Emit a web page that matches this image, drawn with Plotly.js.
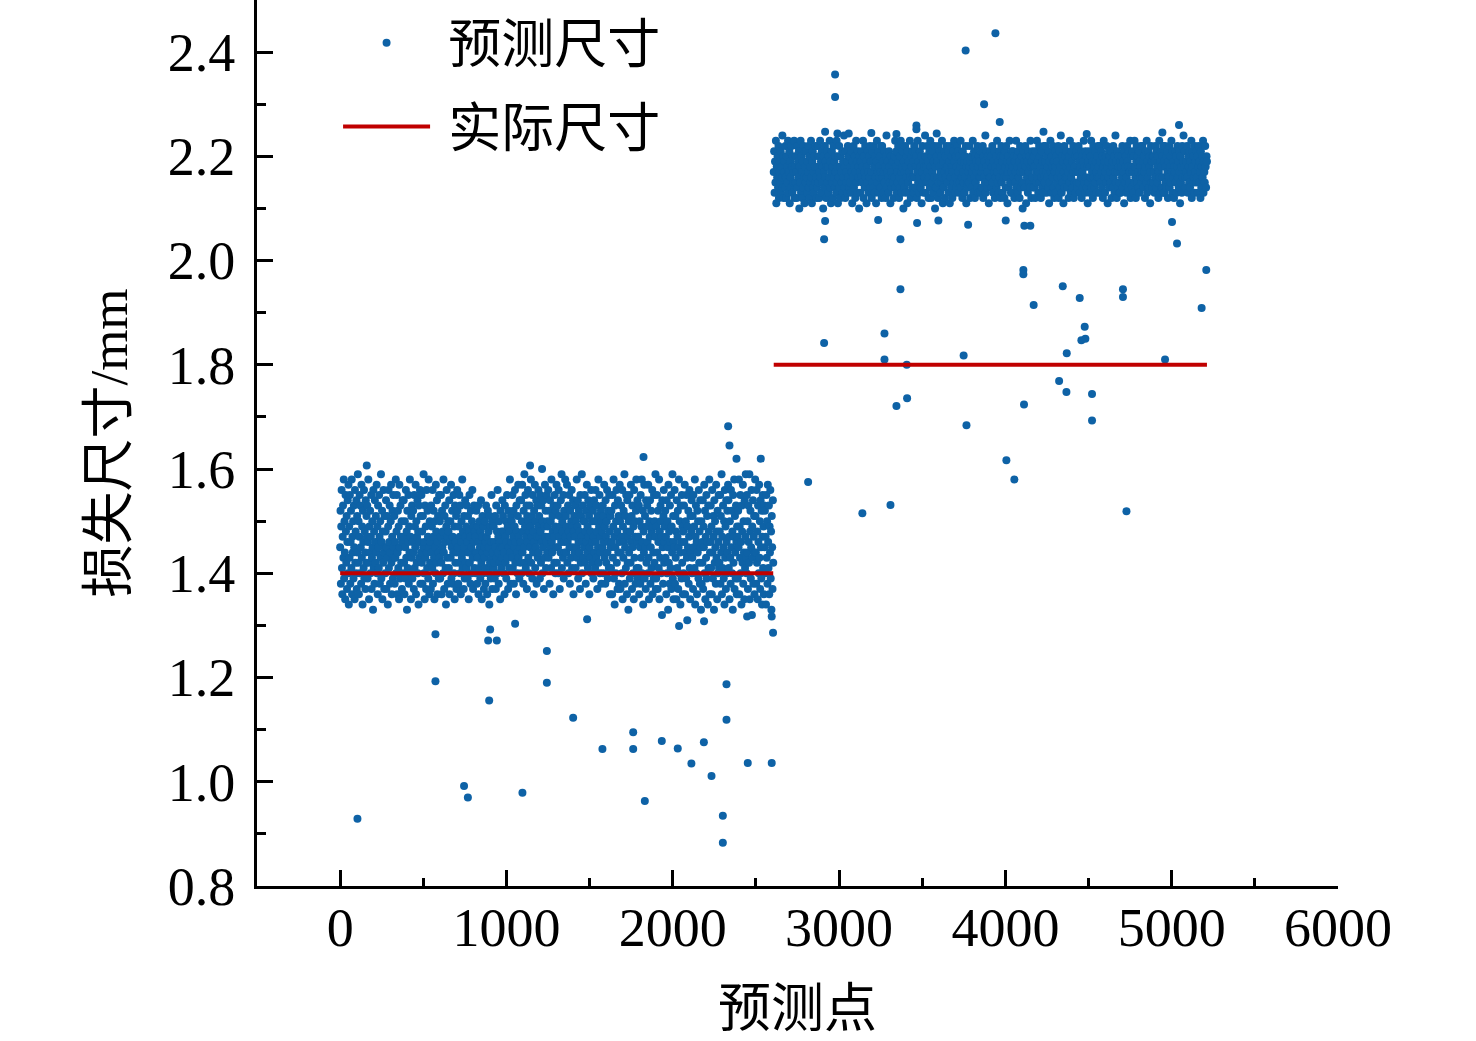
<!DOCTYPE html>
<html>
<head>
<meta charset="utf-8">
<script src="https://cdn.plot.ly/plotly-3.0.1.min.js"></script>
<style>
  html, body { margin: 0; padding: 0; background: #fff; }
  #plot { width: 1476px; height: 1041px; }
</style>
</head>
<body>
<div id="plot"></div>
<script>
// 预测尺寸：第一段（实际尺寸 1.4 mm）逐点读数
const seg1Y = [
1.45,1.52,1.38,1.49,1.56,1.41,1.36,1.47,1.53,1.43,1.58,1.39,1.50,1.44,1.35,1.55,1.48,1.42,1.51,1.37,1.46,1.54,1.40,1.57,1.34,
1.49,1.43,1.55,1.38,1.46,1.52,1.41,1.58,1.36,1.47,1.44,1.50,1.39,1.53,1.45,1.35,1.56,1.42,1.48,1.40,1.54,1.37,1.51,1.44,1.59,
1.42,1.50,1.36,1.47,1.55,1.40,1.53,1.45,1.38,1.57,1.43,1.49,1.34,1.52,1.46,1.41,1.56,1.39,1.48,1.44,1.37,1.54,1.42,1.51,1.47,
1.53,1.39,1.46,1.58,1.42,1.35,1.49,1.44,1.52,1.40,1.47,1.55,1.37,1.43,1.50,1.45,1.33,1.56,1.41,1.48,1.38,1.54,1.46,1.42,1.51,
1.44,1.57,1.40,1.49,1.36,1.53,1.45,1.41,1.55,1.47,1.38,1.50,1.43,1.59,1.39,1.46,1.52,1.35,1.48,1.42,1.56,1.44,1.37,1.51,1.45,
1.40,1.48,1.54,1.37,1.45,1.51,1.43,1.34,1.49,1.56,1.41,1.46,1.53,1.38,1.44,1.50,1.57,1.42,1.36,1.47,1.52,1.39,1.55,1.45,1.43,
1.51,1.38,1.46,1.43,1.58,1.40,1.48,1.55,1.36,1.44,1.52,1.41,1.49,1.35,1.57,1.45,1.39,1.53,1.47,1.42,1.50,1.37,1.46,1.54,1.40,
1.47,1.54,1.42,1.36,1.50,1.45,1.39,1.56,1.43,1.48,1.33,1.52,1.41,1.46,1.55,1.38,1.49,1.44,1.58,1.40,1.47,1.35,1.51,1.43,1.53,
1.39,1.46,1.52,1.44,1.37,1.55,1.41,1.49,1.45,1.57,1.36,1.50,1.42,1.47,1.54,1.40,1.48,1.34,1.53,1.43,1.46,1.56,1.38,1.51,1.44,
1.55,1.42,1.48,1.38,1.51,1.45,1.59,1.40,1.46,1.35,1.53,1.43,1.49,1.37,1.56,1.44,1.41,1.52,1.47,1.39,1.58,1.45,1.36,1.50,1.42,
1.46,1.37,1.53,1.44,1.49,1.41,1.56,1.38,1.47,1.52,1.43,1.35,1.50,1.45,1.40,1.57,1.48,1.42,1.54,1.36,1.46,1.51,1.44,1.39,1.55,
1.43,1.50,1.39,1.47,1.55,1.42,1.36,1.52,1.45,1.48,1.40,1.58,1.44,1.37,1.51,1.46,1.53,1.41,1.34,1.49,1.56,1.43,1.47,1.38,1.50,
1.48,1.41,1.54,1.36,1.46,1.50,1.43,1.57,1.39,1.45,1.52,1.38,1.47,1.44,1.55,1.40,1.49,1.35,1.53,1.42,1.46,1.51,1.37,1.44,1.56,
1.52,1.45,1.38,1.49,1.42,1.55,1.47,1.40,1.53,1.36,1.46,1.50,1.43,1.58,1.41,1.48,1.44,1.37,1.51,1.45,1.39,1.54,1.47,1.42,1.49,
1.41,1.53,1.46,1.39,1.51,1.44,1.35,1.48,1.55,1.42,1.47,1.38,1.52,1.45,1.40,1.50,1.56,1.43,1.37,1.49,1.46,1.53,1.41,1.48,1.44,
1.47,1.40,1.52,1.44,1.38,1.49,1.43,1.53,1.36,1.46,1.41,1.50,1.45,1.39,1.48,1.54,1.42,1.35,1.47,1.51,1.44,1.40,1.49,1.37,1.45,
1.43,1.50,1.38,1.46,1.53,1.41,1.47,1.36,1.44,1.52,1.40,1.48,1.45,1.34,1.51,1.42,1.49,1.39,1.46,1.55,1.43,1.37,1.50,1.44,1.41,
1.49,1.42,1.46,1.39,1.51,1.45,1.37,1.53,1.43,1.48,1.40,1.56,1.44,1.47,1.38,1.50,1.42,1.46,1.35,1.52,1.45,1.41,1.48,1.43,1.54,
1.45,1.51,1.40,1.48,1.44,1.36,1.53,1.47,1.42,1.50,1.39,1.46,1.55,1.43,1.49,1.37,1.52,1.45,1.41,1.48,1.58,1.44,1.38,1.51,1.46,
1.50,1.43,1.55,1.41,1.47,1.52,1.38,1.45,1.49,1.56,1.42,1.46,1.36,1.53,1.48,1.44,1.40,1.51,1.57,1.43,1.47,1.39,1.54,1.45,1.42,
1.46,1.54,1.40,1.50,1.57,1.44,1.48,1.38,1.52,1.45,1.59,1.42,1.49,1.55,1.41,1.47,1.53,1.37,1.51,1.46,1.56,1.43,1.50,1.40,1.48,
1.53,1.45,1.49,1.58,1.42,1.47,1.51,1.39,1.55,1.44,1.48,1.36,1.52,1.46,1.57,1.41,1.50,1.45,1.54,1.38,1.47,1.53,1.43,1.49,1.56,
1.44,1.51,1.47,1.39,1.55,1.48,1.42,1.53,1.46,1.60,1.40,1.50,1.45,1.54,1.37,1.49,1.43,1.57,1.47,1.52,1.41,1.46,1.55,1.44,1.50,
1.49,1.56,1.43,1.47,1.52,1.38,1.54,1.45,1.50,1.41,1.58,1.46,1.44,1.51,1.48,1.36,1.53,1.47,1.42,1.55,1.49,1.40,1.52,1.45,1.57,
1.42,1.48,1.53,1.45,1.40,1.56,1.47,1.51,1.37,1.49,1.44,1.54,1.46,1.59,1.41,1.50,1.48,1.43,1.55,1.39,1.52,1.46,1.44,1.58,1.47,
1.51,1.44,1.49,1.57,1.42,1.46,1.53,1.40,1.48,1.55,1.45,1.38,1.52,1.47,1.43,1.50,1.56,1.41,1.49,1.45,1.54,1.36,1.48,1.51,1.44,
1.47,1.53,1.41,1.50,1.45,1.58,1.43,1.49,1.54,1.39,1.46,1.52,1.44,1.48,1.37,1.55,1.42,1.51,1.47,1.59,1.40,1.46,1.53,1.43,1.50,
1.45,1.50,1.55,1.42,1.48,1.38,1.52,1.46,1.57,1.44,1.49,1.41,1.54,1.47,1.51,1.36,1.45,1.53,1.43,1.48,1.56,1.40,1.50,1.46,1.42,
1.52,1.39,1.47,1.54,1.44,1.50,1.41,1.56,1.46,1.43,1.53,1.48,1.37,1.51,1.45,1.58,1.42,1.49,1.55,1.40,1.47,1.44,1.52,1.38,1.50,
1.48,1.45,1.53,1.40,1.51,1.46,1.57,1.43,1.49,1.38,1.54,1.47,1.42,1.50,1.56,1.44,1.39,1.52,1.46,1.41,1.55,1.48,1.36,1.51,1.45,
1.41,1.52,1.46,1.36,1.55,1.43,1.49,1.58,1.39,1.47,1.34,1.53,1.45,1.40,1.50,1.56,1.42,1.48,1.37,1.54,1.44,1.51,1.38,1.46,1.57,
1.50,1.37,1.44,1.53,1.47,1.40,1.56,1.35,1.49,1.43,1.52,1.46,1.59,1.38,1.45,1.51,1.41,1.55,1.48,1.36,1.54,1.42,1.47,1.33,1.50,
1.44,1.55,1.39,1.48,1.42,1.57,1.46,1.51,1.37,1.53,1.45,1.40,1.49,1.35,1.56,1.43,1.50,1.47,1.38,1.52,1.58,1.41,1.46,1.54,1.39,
1.47,1.41,1.53,1.36,1.50,1.45,1.38,1.55,1.43,1.49,1.58,1.40,1.46,1.52,1.34,1.48,1.44,1.57,1.39,1.51,1.45,1.37,1.54,1.42,1.49,
1.53,1.46,1.40,1.57,1.43,1.35,1.50,1.47,1.54,1.38,1.45,1.52,1.41,1.48,1.56,1.36,1.49,1.44,1.39,1.55,1.42,1.50,1.47,1.59,1.37,
1.39,1.49,1.55,1.44,1.37,1.52,1.46,1.41,1.58,1.35,1.48,1.43,1.53,1.50,1.40,1.47,1.32,1.54,1.45,1.38,1.51,1.56,1.42,1.46,1.49,
1.52,1.43,1.47,1.36,1.54,1.40,1.50,1.45,1.33,1.57,1.42,1.48,1.38,1.53,1.46,1.41,1.55,1.37,1.49,1.44,1.59,1.39,1.51,1.35,1.46,
1.45,1.56,1.38,1.51,1.43,1.48,1.35,1.54,1.41,1.47,1.52,1.37,1.45,1.58,1.40,1.50,1.44,1.34,1.53,1.46,1.39,1.55,1.42,1.49,1.36,
1.48,1.40,1.53,1.46,1.57,1.36,1.44,1.50,1.39,1.55,1.43,1.31,1.49,1.45,1.52,1.38,1.47,1.56,1.41,1.35,1.51,1.44,1.48,1.54,1.40,
1.43,1.51,1.37,1.55,1.45,1.49,1.41,1.58,1.34,1.47,1.53,1.40,1.46,1.36,1.52,1.44,1.50,1.39,1.56,1.42,1.48,1.38,1.54,1.45,1.33,
1.50,1.38,1.46,1.42,1.54,1.37,1.49,1.45,1.57,1.40,1.52,1.35,1.47,1.43,1.55,1.39,1.51,1.46,1.34,1.53,1.41,1.48,1.58,1.36,1.44,
1.46,1.53,1.41,1.49,1.36,1.56,1.44,1.39,1.51,1.47,1.33,1.54,1.42,1.50,1.45,1.38,1.57,1.43,1.48,1.35,1.52,1.40,1.46,1.55,1.41,
1.42,1.48,1.55,1.38,1.51,1.44,1.59,1.36,1.47,1.41,1.53,1.45,1.39,1.50,1.34,1.56,1.43,1.49,1.37,1.54,1.46,1.40,1.52,1.44,1.57,
1.54,1.41,1.47,1.35,1.50,1.43,1.38,1.56,1.45,1.52,1.40,1.48,1.33,1.55,1.42,1.47,1.58,1.37,1.51,1.44,1.39,1.53,1.46,1.36,1.49,
1.47,1.39,1.52,1.45,1.58,1.36,1.49,1.43,1.55,1.40,1.46,1.34,1.53,1.48,1.42,1.57,1.38,1.50,1.44,1.35,1.54,1.41,1.47,1.59,1.43,
1.40,1.55,1.44,1.50,1.37,1.53,1.46,1.42,1.59,1.35,1.48,1.52,1.39,1.45,1.56,1.32,1.49,1.43,1.54,1.38,1.47,1.51,1.36,1.44,1.58,
1.51,1.44,1.38,1.56,1.42,1.48,1.35,1.53,1.46,1.40,1.57,1.43,1.50,1.37,1.54,1.45,1.39,1.52,1.34,1.47,1.55,1.41,1.49,1.36,1.53,
1.45,1.52,1.40,1.47,1.34,1.55,1.43,1.50,1.38,1.57,1.46,1.41,1.53,1.36,1.49,1.44,1.56,1.39,1.48,1.33,1.51,1.45,1.37,1.54,1.42
];

// 预测尺寸：第二段（实际尺寸 1.8 mm）逐点读数
const seg2Y = [
2.17,2.21,2.13,2.19,2.15,2.23,2.11,2.18,2.16,2.20,2.14,2.22,2.12,2.17,2.19,2.15,2.21,2.13,2.18,2.16,2.24,2.14,2.20,2.12,2.17,
2.19,2.14,2.22,2.16,2.12,2.20,2.18,2.15,2.23,2.13,2.17,2.21,2.11,2.19,2.16,2.14,2.22,2.18,2.13,2.20,2.15,2.17,2.23,2.12,2.18,
2.15,2.20,2.17,2.12,2.22,2.14,2.19,2.16,2.21,2.10,2.18,2.15,2.23,2.13,2.20,2.17,2.12,2.19,2.14,2.22,2.16,2.11,2.21,2.18,2.15,
2.21,2.16,2.13,2.19,2.17,2.22,2.14,2.20,2.12,2.18,2.15,2.23,2.16,2.11,2.19,2.21,2.14,2.17,2.13,2.20,2.18,2.15,2.22,2.16,2.12,
2.14,2.18,2.22,2.15,2.20,2.12,2.17,2.23,2.16,2.19,2.13,2.21,2.15,2.18,2.10,2.20,2.17,2.14,2.22,2.16,2.19,2.12,2.18,2.21,2.15,
2.18,2.13,2.20,2.16,2.23,2.14,2.19,2.11,2.17,2.21,2.15,2.18,2.12,2.22,2.16,2.19,2.14,2.20,2.17,2.13,2.23,2.15,2.18,2.11,2.20,
2.16,2.22,2.14,2.18,2.12,2.20,2.17,2.15,2.21,2.13,2.19,2.16,2.24,2.14,2.18,2.12,2.21,2.17,2.15,2.19,2.13,2.22,2.16,2.20,2.14,
2.20,2.15,2.18,2.13,2.21,2.17,2.11,2.19,2.16,2.22,2.14,2.18,2.20,2.12,2.17,2.23,2.15,2.19,2.13,2.21,2.16,2.18,2.10,2.20,2.17,
2.13,2.19,2.16,2.21,2.15,2.18,2.23,2.12,2.20,2.17,2.14,2.22,2.16,2.19,2.11,2.18,2.15,2.21,2.17,2.13,2.20,2.16,2.22,2.14,2.19,
2.17,2.12,2.21,2.15,2.19,2.14,2.22,2.18,2.13,2.20,2.16,2.11,2.19,2.23,2.15,2.17,2.21,2.13,2.18,2.16,2.20,2.14,2.17,2.22,2.12,
2.22,2.16,2.19,2.13,2.17,2.21,2.15,2.18,2.12,2.20,2.24,2.14,2.17,2.19,2.16,2.13,2.21,2.18,2.15,2.11,2.20,2.17,2.14,2.19,2.16,
2.15,2.19,2.12,2.20,2.16,2.23,2.14,2.18,2.21,2.13,2.17,2.15,2.22,2.19,2.12,2.16,2.20,2.14,2.23,2.17,2.13,2.18,2.21,2.15,2.10,
2.19,2.14,2.17,2.22,2.13,2.18,2.16,2.20,2.11,2.21,2.15,2.19,2.13,2.17,2.23,2.16,2.12,2.20,2.18,2.14,2.21,2.16,2.19,2.13,2.22,
2.16,2.21,2.14,2.18,2.20,2.12,2.17,2.23,2.15,2.19,2.13,2.16,2.21,2.18,2.14,2.20,2.11,2.17,2.22,2.15,2.19,2.13,2.18,2.16,2.24,
2.20,2.13,2.18,2.15,2.22,2.17,2.19,2.12,2.16,2.21,2.14,2.23,2.18,2.12,2.20,2.15,2.17,2.21,2.13,2.19,2.16,2.22,2.10,2.18,2.14,
2.14,2.20,2.16,2.19,2.12,2.22,2.15,2.18,2.21,2.13,2.17,2.20,2.15,2.23,2.16,2.11,2.19,2.14,2.21,2.17,2.12,2.20,2.16,2.18,2.22,
2.18,2.15,2.21,2.13,2.17,2.19,2.11,2.22,2.16,2.14,2.20,2.18,2.12,2.17,2.21,2.15,2.23,2.19,2.13,2.16,2.20,2.14,2.18,2.22,2.15,
2.21,2.17,2.13,2.20,2.15,2.18,2.23,2.14,2.19,2.16,2.12,2.21,2.17,2.15,2.19,2.13,2.20,2.16,2.22,2.11,2.18,2.15,2.19,2.14,2.17,
2.15,2.22,2.18,2.12,2.19,2.16,2.20,2.14,2.17,2.23,2.13,2.18,2.21,2.16,2.12,2.20,2.15,2.19,2.17,2.14,2.22,2.18,2.13,2.20,2.16,
2.19,2.13,2.16,2.21,2.17,2.14,2.18,2.22,2.12,2.20,2.16,2.19,2.15,2.24,2.13,2.18,2.21,2.14,2.17,2.20,2.15,2.11,2.19,2.16,2.21,
2.16,2.20,2.14,2.18,2.22,2.15,2.13,2.19,2.17,2.21,2.12,2.18,2.16,2.20,2.14,2.23,2.17,2.15,2.19,2.13,2.21,2.16,2.18,2.12,2.20,
2.22,2.15,2.19,2.13,2.17,2.20,2.16,2.12,2.21,2.18,2.14,2.22,2.16,2.19,2.11,2.17,2.20,2.14,2.18,2.23,2.15,2.19,2.13,2.17,2.21,
2.13,2.18,2.21,2.16,2.20,2.12,2.19,2.15,2.17,2.23,2.14,2.20,2.18,2.13,2.21,2.16,2.19,2.12,2.22,2.17,2.14,2.18,2.20,2.15,2.10,
2.17,2.21,2.15,2.19,2.14,2.22,2.18,2.11,2.20,2.16,2.19,2.13,2.21,2.17,2.15,2.20,2.14,2.23,2.18,2.12,2.19,2.16,2.21,2.14,2.18,
2.20,2.14,2.18,2.12,2.21,2.17,2.15,2.23,2.16,2.19,2.13,2.17,2.22,2.15,2.20,2.18,2.12,2.16,2.21,2.14,2.19,2.17,2.13,2.22,2.16,
2.15,2.19,2.22,2.17,2.13,2.20,2.16,2.18,2.14,2.21,2.11,2.19,2.15,2.23,2.17,2.13,2.20,2.18,2.16,2.22,2.14,2.19,2.12,2.17,2.21,
2.18,2.13,2.20,2.15,2.19,2.16,2.22,2.12,2.17,2.21,2.14,2.18,2.24,2.16,2.13,2.20,2.15,2.19,2.11,2.17,2.22,2.14,2.20,2.16,2.18,
2.21,2.16,2.14,2.19,2.17,2.12,2.20,2.15,2.23,2.18,2.13,2.16,2.21,2.19,2.14,2.17,2.22,2.12,2.18,2.15,2.20,2.13,2.17,2.21,2.15,
2.14,2.20,2.17,2.22,2.15,2.19,2.13,2.18,2.16,2.21,2.12,2.20,2.17,2.14,2.19,2.23,2.15,2.18,2.13,2.21,2.16,2.20,2.14,2.18,2.11,
2.19,2.15,2.21,2.13,2.18,2.16,2.20,2.23,2.14,2.17,2.19,2.12,2.22,2.16,2.18,2.14,2.21,2.15,2.19,2.17,2.13,2.20,2.16,2.22,2.18,
2.16,2.22,2.13,2.19,2.15,2.21,2.17,2.14,2.20,2.12,2.18,2.23,2.16,2.19,2.13,2.17,2.20,2.15,2.22,2.18,2.11,2.19,2.16,2.21,2.14,
2.20,2.17,2.15,2.21,2.12,2.18,2.19,2.14,2.22,2.16,2.20,2.13,2.17,2.24,2.15,2.19,2.12,2.21,2.17,2.14,2.20,2.18,2.15,2.13,2.19,
2.13,2.18,2.20,2.16,2.22,2.14,2.19,2.17,2.11,2.21,2.15,2.18,2.20,2.13,2.16,2.22,2.19,2.14,2.18,2.21,2.15,2.17,2.23,2.12,2.20,
2.18,2.14,2.21,2.17,2.13,2.20,2.15,2.23,2.18,2.16,2.12,2.19,2.22,2.15,2.20,2.17,2.14,2.21,2.13,2.19,2.16,2.18,2.22,2.15,2.17,
2.22,2.16,2.19,2.14,2.20,2.17,2.12,2.18,2.21,2.15,2.23,2.13,2.19,2.16,2.21,2.14,2.18,2.20,2.11,2.17,2.22,2.15,2.19,2.14,2.20,
2.15,2.20,2.17,2.13,2.19,2.22,2.16,2.14,2.21,2.18,2.15,2.20,2.12,2.17,2.23,2.16,2.19,2.13,2.21,2.18,2.14,2.20,2.16,2.22,2.13,
2.19,2.13,2.22,2.18,2.15,2.20,2.14,2.21,2.17,2.12,2.19,2.16,2.22,2.14,2.18,2.20,2.15,2.23,2.17,2.13,2.21,2.16,2.19,2.12,2.18,
2.17,2.21,2.15,2.20,2.13,2.18,2.22,2.16,2.19,2.14,2.21,2.17,2.11,2.20,2.15,2.18,2.13,2.22,2.16,2.19,2.24,2.14,2.18,2.21,2.16,
2.14,2.19,2.17,2.22,2.16,2.13,2.20,2.18,2.15,2.21,2.14,2.19,2.17,2.23,2.12,2.18,2.21,2.15,2.20,2.16,2.13,2.22,2.17,2.19,2.15,
2.21,2.16,2.20,2.13,2.18,2.22,2.15,2.19,2.17,2.12,2.21,2.14,2.18,2.20,2.16,2.23,2.13,2.19,2.17,2.15,2.22,2.18,2.14,2.20,2.19
];

// 两段预测点的编号范围
const seg1Range = [0, 2604];
const seg2Range = [2607, 5212];

// 偏离主带的零散预测点
const outX = [
  104, 573, 573, 890, 942, 902, 1052, 1243, 1243, 896, 1401, 1762, 1577, 1762, 1934, 2030, 2187,
  2323, 2323, 2112, 2451, 2595, 2233, 2301, 2301, 1832, 745, 768, 1096, 2603, 2595, 2447, 2038,
  2188, 1485, 1824, 2333, 2341, 2383, 2529, 1142, 160,
  2910, 3369, 5032, 5208, 4108, 4108, 3369, 4345, 4447, 4707, 4707, 4170, 5180, 4477, 4457, 4481,
  3273, 2910, 4369, 3273, 3749, 4960, 3407, 4323, 4367, 4521, 3409, 3345, 4112, 3766, 4521, 4006,
  4054, 2814, 3309, 3140, 4728,
  2916, 3235, 3469, 3597, 3776, 4002, 4114, 4150, 5002,
  3940, 3761, 2976, 2976, 3872, 3966, 3465, 3465, 5044, 2916, 2990, 3058, 3194, 3345, 3587, 4229,
  4489, 4944
];
const outY = [
  0.929, 1.283, 1.193, 1.271, 1.271, 1.292, 1.303, 1.251, 1.190, 1.156, 1.123, 1.095, 1.063, 1.063, 1.078, 1.064, 1.076,
  1.187, 1.119, 1.035, 1.036, 1.036, 1.011, 0.935, 0.883, 0.963, 0.992, 0.970, 0.979, 1.286, 1.317, 1.317, 1.299,
  1.308, 1.312, 1.623, 1.682, 1.645, 1.620, 1.620, 1.607, 1.607,
  2.041, 2.041, 2.033, 1.982, 1.982, 1.974, 1.945, 1.951, 1.928, 1.945, 1.930, 1.915, 1.909, 1.873, 1.847, 1.850,
  1.860, 1.842, 1.822, 1.810, 1.818, 1.810, 1.800, 1.769, 1.748, 1.744, 1.736, 1.721, 1.724, 1.684, 1.693, 1.617,
  1.580, 1.575, 1.531, 1.515, 1.519,
  2.076, 2.078, 2.072, 2.077, 2.069, 2.077, 2.067, 2.067, 2.074,
  2.436, 2.403, 2.357, 2.314, 2.300, 2.266, 2.259, 2.252, 2.260, 2.247, 2.244, 2.244, 2.245, 2.243, 2.244, 2.247,
  2.243, 2.246
];

// 实际尺寸
const actualX = [0, 2604, null, 2607, 5212];
const actualY = [1.4, 1.4, null, 1.8, 1.8];

const xTicks = [0, 1000, 2000, 3000, 4000, 5000, 6000];
const yTicks = [0.8, 1.0, 1.2, 1.4, 1.6, 1.8, 2.0, 2.2, 2.4];

// 主带点的横坐标按编号均匀排列
function spread(vals, range) {
  let xs = [];
  let step = (range[1] - range[0]) / (vals.length - 1);
  for (let i = 0; i < vals.length; i++) {
    xs.push(range[0] + i * step);
  }
  return xs;
}

let predX = spread(seg1Y, seg1Range).concat(spread(seg2Y, seg2Range), outX);
let predY = seg1Y.concat(seg2Y, outY);

const fontFamily = "'Liberation Serif', 'Times New Roman', 'Noto Sans CJK SC', serif";

var data = [{
  x: predX,
  y: predY,
  name: " 预测尺寸",
  mode: "markers",
  type: "scatter",
  marker: {color: "#0e62a6", size: 8},
  legendgroup: "a"
},
{
  x: actualX,
  y: actualY,
  name: " 实际尺寸",
  mode: "lines",
  type: "scatter",
  line: {color: "#c00000", width: 4},
  connectgaps: false,
  legendgroup: "b"
}];

var axisCommon = {
  showgrid: false,
  zeroline: false,
  showline: true,
  linecolor: "#000",
  linewidth: 3,
  ticks: "inside",
  ticklen: 16,
  tickwidth: 3,
  tickcolor: "#000",
  tickfont: {family: fontFamily, size: 54, color: "#000"}
};

var layout = {
  width: 1476,
  height: 1041,
  margin: {t: 0, r: 138, b: 155, l: 257},
  paper_bgcolor: "#fff",
  plot_bgcolor: "#fff",
  showlegend: true,
  legend: {
    x: 0.075, y: 0.998, xanchor: "left", yanchor: "top",
    bgcolor: "rgba(0,0,0,0)",
    font: {family: fontFamily, size: 53, color: "#000"},
    itemwidth: 87,
    tracegroupgap: 12,
    traceorder: "grouped"
  },
  xaxis: Object.assign({}, axisCommon, {
    range: [-500, 6000],
    tickvals: xTicks,
    ticktext: xTicks.map(String),
    minor: {dtick: 500, tick0: 0, ticks: "inside", ticklen: 8, tickwidth: 3, tickcolor: "#000"},
    ticklabelstandoff: -8,
    title: {text: "预测点", font: {family: fontFamily, size: 53, color: "#000"}, standoff: 34}
  }),
  yaxis: Object.assign({}, axisCommon, {
    range: [0.8, 2.5],
    tickvals: yTicks,
    ticktext: yTicks.map(v => v.toFixed(1)),
    minor: {dtick: 0.1, tick0: 0.8, ticks: "inside", ticklen: 9, tickwidth: 3, tickcolor: "#000"},
    ticklabelstandoff: 8,
    title: {text: "损失尺寸/mm", font: {family: fontFamily, size: 53, color: "#000"}, standoff: 24}
  })
};

Plotly.newPlot("plot", data, layout, {displayModeBar: false});
</script>
</body>
</html>
